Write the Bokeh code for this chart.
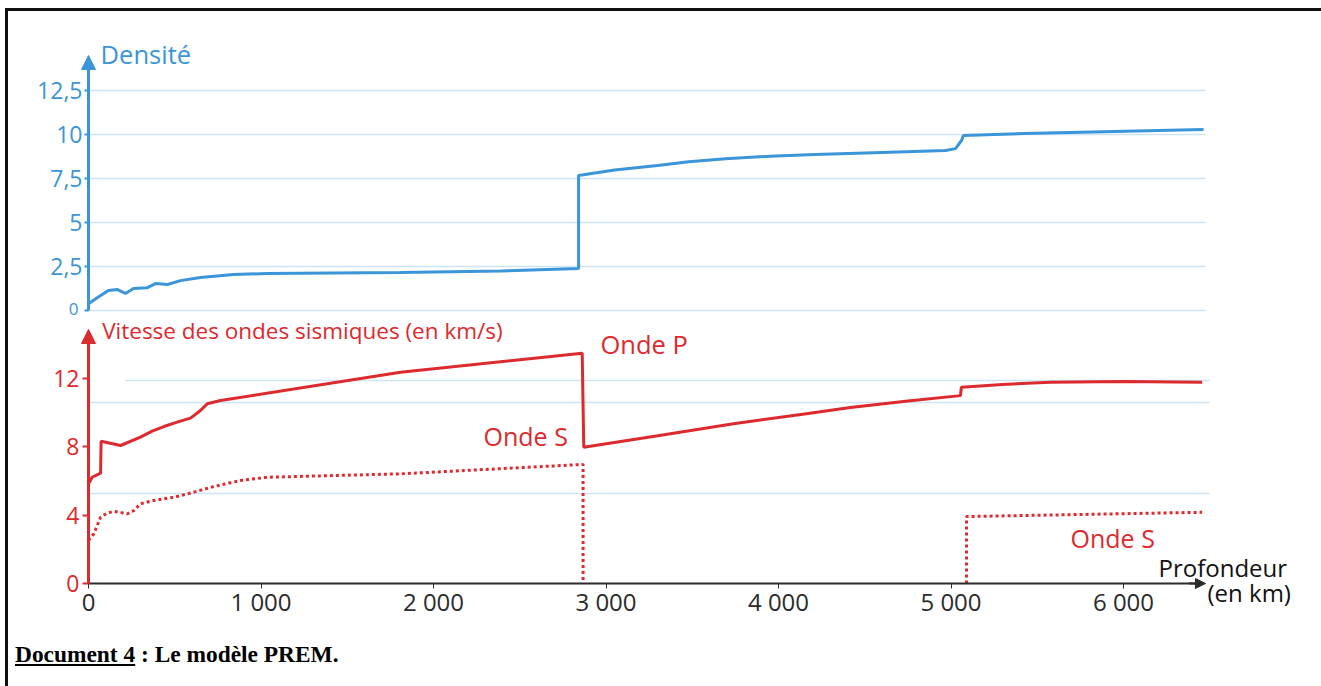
from bokeh.plotting import figure
from bokeh.models import Range1d, FixedTicker, Label, Arrow, NormalHead, Div, LinearAxis
from bokeh.layouts import column
from bokeh.embed import file_html
from bokeh.resources import INLINE

nan = float("nan")

# ---- data ----
density_depth = [0, 70, 116, 168, 214, 261, 342, 388, 458, 533, 649, 841, 1038, 1420, 1809, 2388, 2841,
                 2841, 3050, 3299, 3480, 3693, 3950, 4209, 4600, 4968, 5026, 5061, 5072, 5426, 6464]
density_value = [0.38, 0.85, 1.14, 1.19, 0.97, 1.25, 1.30, 1.53, 1.48, 1.70, 1.88, 2.05, 2.10, 2.13, 2.16, 2.25, 2.39,
                 7.67, 7.98, 8.24, 8.45, 8.62, 8.77, 8.86, 8.98, 9.09, 9.20, 9.66, 9.94, 10.06, 10.28]

p_depth = [0, 21, 70, 73, 186, 301, 369, 437, 514, 591, 649, 688, 765, 1809, 2862,
           2871, 3300, 3739, 4130, 4417, 4750, 5055, 5060, 5300, 5577, 6000, 6456]
p_value = [5.84, 6.22, 6.46, 8.33, 8.08, 8.57, 8.92, 9.19, 9.45, 9.68, 10.13, 10.52, 10.71, 12.37, 13.48,
           7.98, 8.65, 9.35, 9.90, 10.30, 10.68, 11.00, 11.49, 11.65, 11.79, 11.82, 11.79]

s_depth = [0, 31, 70, 108, 147, 224, 263, 301, 379, 495, 611, 727, 881, 1036, 1421, 1809, 2862, 2867, 2867,
           nan, 5090, 5090, 6456]
s_value = [2.52, 2.91, 3.88, 4.12, 4.23, 4.08, 4.27, 4.67, 4.86, 5.05, 5.35, 5.68, 6.03, 6.22, 6.32, 6.42, 6.97, 6.97, 0,
           nan, 0, 3.92, 4.17]

x_ticks = [0, 1000, 2000, 3000, 4000, 5000, 6000]
x_tick_labels = ["0", "1 000", "2 000", "3 000", "4 000", "5 000", "6 000"]
density_ticks = [0, 2.5, 5, 7.5, 10, 12.5]
density_tick_labels = ["", "2,5", "5", "7,5", "10", "12,5"]
velocity_ticks = [0, 4, 8, 12]
velocity_tick_labels = ["0", "4", "8", "12"]
velocity_grid = [5.27, 10.6]
velocity_grid_partial = [11.88]

BLUE = "#3a95d9"
RED = "#dc2a2e"
GRID = "#cde4f5"
DARK = "#2b2b2b"
FONT = "Open Sans"

p = figure(width=1308, height=619,
           x_range=Range1d(-463.8, 7118.8), y_range=Range1d(-2.752, 33.49),
           x_axis_location=None, y_axis_location=None,
           min_border=0, output_backend="svg", toolbar_location=None)
p.extra_y_ranges = {"density": Range1d(-18.18, 16.99)}
p.outline_line_color = None
p.grid.visible = False

# ---- grid lines (end before the right margin, as in the reference) ----
p.segment(x0=0, x1=6475, y0=density_ticks, y1=density_ticks, y_range_name="density",
          line_color=GRID, line_width=1.5)
p.segment(x0=0, x1=6500, y0=velocity_grid, y1=velocity_grid, line_color=GRID, line_width=1.5)
p.segment(x0=214, x1=6500, y0=velocity_grid_partial, y1=velocity_grid_partial,
          line_color=GRID, line_width=1.5)

# ---- axes ----
da = LinearAxis(y_range_name="density", fixed_location=0, ticker=FixedTicker(ticks=density_ticks))
da.major_label_overrides = {t: l for t, l in zip(density_ticks, density_tick_labels)}
da.axis_line_color = None
da.major_tick_line_color = BLUE
da.major_tick_line_width = 2
da.major_tick_out = 4
da.major_tick_in = 0
da.minor_tick_line_color = None
da.major_label_standoff = 2
da.major_label_text_color = BLUE
da.major_label_text_font = FONT
da.major_label_text_font_size = "23px"
p.add_layout(da, "left")

va = LinearAxis(fixed_location=0, ticker=FixedTicker(ticks=velocity_ticks))
va.major_label_overrides = {t: l for t, l in zip(velocity_ticks, velocity_tick_labels)}
va.axis_line_color = None
va.major_tick_line_color = RED
va.major_tick_line_width = 2
va.major_tick_out = 6
va.major_tick_in = 0
va.minor_tick_line_color = None
va.major_label_standoff = 3
va.major_label_text_color = RED
va.major_label_text_font = FONT
va.major_label_text_font_size = "23px"
p.add_layout(va, "left")

xa = LinearAxis(fixed_location=0, ticker=FixedTicker(ticks=x_ticks), bounds=(0, 6420))
xa.major_label_overrides = {t: l for t, l in zip(x_ticks, x_tick_labels)}
xa.axis_line_color = DARK
xa.axis_line_width = 2
xa.major_tick_line_color = DARK
xa.major_tick_out = 5
xa.major_tick_in = 0
xa.minor_tick_line_color = None
xa.major_label_standoff = -3
xa.major_label_text_color = DARK
xa.major_label_text_font = FONT
xa.major_label_text_font_size = "24px"
p.add_layout(xa, "below")

# ---- data lines ----
p.line(density_depth, density_value, y_range_name="density", line_color=BLUE, line_width=3)
p.line(p_depth, p_value, line_color=RED, line_width=3)
p.line(s_depth, s_value, line_color=RED, line_width=3, line_dash="3 3")

# ---- axis arrows ----
p.add_layout(Arrow(x_start=0, y_start=0, x_end=0, y_end=14.49, y_range_name="density",
                   line_color=BLUE, line_width=3,
                   end=NormalHead(size=14, fill_color=BLUE, line_color=BLUE)))
p.add_layout(Arrow(x_start=0, y_start=0, x_end=0, y_end=14.87, line_color=RED, line_width=3,
                   end=NormalHead(size=14, fill_color=RED, line_color=RED)))
p.add_layout(Arrow(x_start=6380, y_start=0, x_end=6475, y_end=0, line_color=DARK, line_width=2,
                   end=NormalHead(size=10, fill_color=DARK, line_color=DARK)))

# ---- texts ----
p.add_layout(Label(x=70, y=14.6, y_range_name="density", text="Densité", text_color=BLUE,
                   text_font=FONT, text_font_size="25.5px", text_baseline="alphabetic"))
p.add_layout(Label(x=-58, y=0.11, y_range_name="density", text="0", text_color=BLUE, text_font=FONT,
                   text_font_size="17px", text_align="right", text_baseline="alphabetic"))
p.add_layout(Label(x=79, y=14.8, text="Vitesse des ondes sismiques (en km/s)", text_color=RED,
                   text_font=FONT, text_font_size="22.5px", text_baseline="alphabetic"))
p.add_layout(Label(x=2968, y=14.02, text="Onde P", text_color=RED, text_font=FONT,
                   text_font_size="25.5px", text_baseline="alphabetic"))
p.add_layout(Label(x=2290, y=8.64, text="Onde S", text_color=RED, text_font=FONT,
                   text_font_size="25px", text_baseline="alphabetic"))
p.add_layout(Label(x=5693, y=2.66, text="Onde S", text_color=RED, text_font=FONT,
                   text_font_size="25px", text_baseline="alphabetic"))
p.add_layout(Label(x=6203, y=0.91, text="Profondeur", text_color="#111111", text_font=FONT,
                   text_font_size="24px", text_baseline="alphabetic"))
p.add_layout(Label(x=6487, y=-0.5, text="(en km)", text_color="#111111", text_font=FONT,
                   text_font_size="24px", text_baseline="alphabetic"))

cap = Div(text="<div style=\"padding:3px 0 0 2px;font-family:'Liberation Serif';font-weight:bold;"
               "font-size:23.4px;color:#000;white-space:nowrap\"><u>Document 4</u> : Le modèle PREM.</div>",
          width=1308, height=48)

layout = column(p, cap,
                styles={"border-left": "3px solid #111", "border-top": "3px solid #111",
                        "border-right": "3px solid #111", "margin-left": "5px",
                        "margin-top": "8px", "margin-right": "2px"})

open("out.html", "w").write(file_html(layout, INLINE))
